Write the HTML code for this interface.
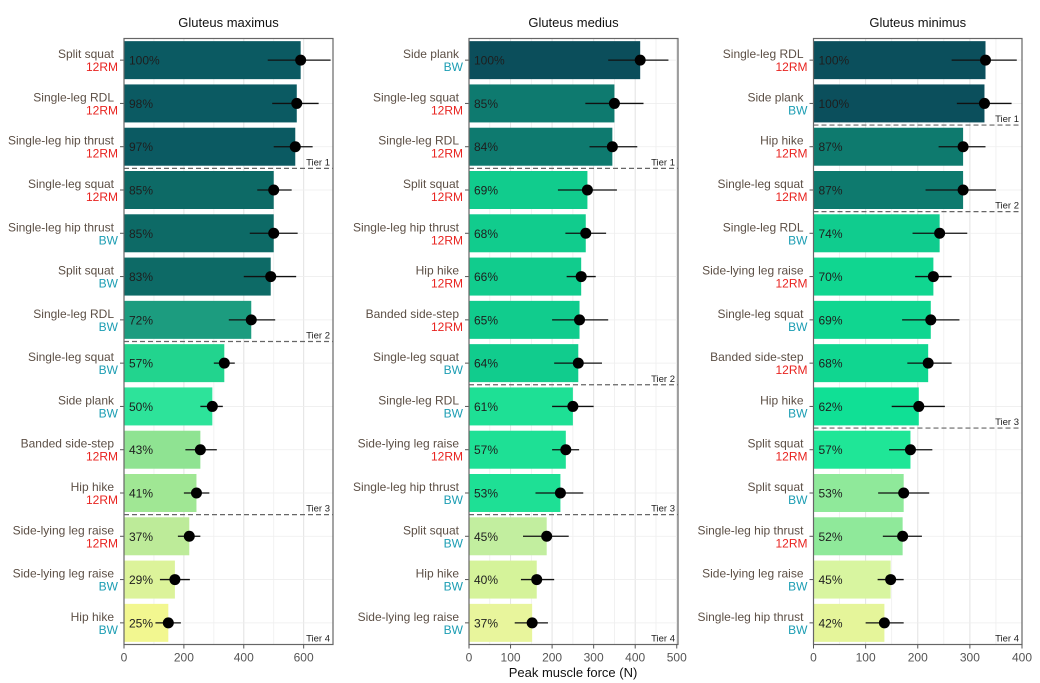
<!DOCTYPE html>
<html><head><meta charset="utf-8">
<style>
html,body{margin:0;padding:0;background:#fff;}
svg{display:block;font-family:"Liberation Sans",Arial,sans-serif;}
</style></head>
<body>
<svg id="chart" width="1040" height="683" viewBox="0 0 1040 683" xmlns="http://www.w3.org/2000/svg"></svg>
<script>
// ---- Gluteus maximus ----
const maxNames = ["Split squat","Single-leg RDL","Single-leg hip thrust","Single-leg squat","Single-leg hip thrust","Split squat","Single-leg RDL","Single-leg squat","Side plank","Banded side-step","Hip hike","Side-lying leg raise","Side-lying leg raise","Hip hike"];
const maxLoad = ["12RM","12RM","12RM","12RM","BW","BW","BW","BW","BW","12RM","12RM","12RM","BW","BW"];
const maxForce = [590,577,572,500,500,490,425,335,295,255,242,218,170,148];
const maxLo = [480,495,500,445,420,400,350,300,255,205,200,180,120,105];
const maxHi = [690,650,630,560,580,575,505,370,330,310,285,255,220,190];
const maxPct = ["100%","98%","97%","85%","85%","83%","72%","57%","50%","43%","41%","37%","29%","25%"];
const maxTierEnds = [3,7,11,14];
const maxTicks = [0,200,400,600];
// ---- Gluteus medius ----
const medNames = ["Side plank","Single-leg squat","Single-leg RDL","Split squat","Single-leg hip thrust","Hip hike","Banded side-step","Single-leg squat","Single-leg RDL","Side-lying leg raise","Single-leg hip thrust","Split squat","Hip hike","Side-lying leg raise"];
const medLoad = ["BW","12RM","12RM","12RM","12RM","12RM","12RM","BW","BW","12RM","BW","BW","BW","BW"];
const medForce = [412,350,345,285,281,270,266,263,250,233,220,187,163,152];
const medLo = [335,280,290,214,232,235,200,205,200,200,160,130,125,110];
const medHi = [480,420,405,356,330,305,335,320,300,265,275,240,205,190];
const medPct = ["100%","85%","84%","69%","68%","66%","65%","64%","61%","57%","53%","45%","40%","37%"];
const medTierEnds = [3,8,11,14];
const medTicks = [0,100,200,300,400,500];
// ---- Gluteus minimus ----
const minNames = ["Single-leg RDL","Side plank","Hip hike","Single-leg squat","Single-leg RDL","Side-lying leg raise","Single-leg squat","Banded side-step","Hip hike","Split squat","Split squat","Single-leg hip thrust","Side-lying leg raise","Single-leg hip thrust"];
const minLoad = ["12RM","BW","12RM","12RM","BW","12RM","BW","12RM","BW","12RM","BW","12RM","BW","BW"];
const minForce = [330,328,287,287,242,230,225,220,202,186,173,171,148,136];
const minLo = [265,275,240,215,190,195,170,180,150,145,124,133,123,100];
const minHi = [390,380,330,350,295,265,280,265,252,228,222,208,173,173];
const minPct = ["100%","100%","87%","87%","74%","70%","69%","68%","62%","57%","53%","52%","45%","42%"];
const minTierEnds = [2,4,9,14];
const minTicks = [0,100,200,300,400];

const maxColors = ["#0b5a62","#0b5a62","#0b5a62","#0d6a66","#0d6a66","#0d6a66","#1c9c7f","#22d48e","#2de39a","#8fe392","#a0e794","#bdeb99","#dcf39a","#f2f790"];
const medColors = ["#0b4e5b","#0e7a6f","#0e7a6f","#11cc8d","#11cc8d","#11cc8d","#11cc8d","#11cc8d","#1ee095","#1ee095","#1ee095","#c2ee9f","#d5f39a","#e8f59c"];
const minColors = ["#0b4f5c","#0b4f5c","#0e7a6e","#0e7a6e","#10cc8e","#10d690","#10d690","#10d690","#10e095","#1fe697","#8fe99a","#8fe99a","#d8f5a0","#e5f59a"];

const svg = document.getElementById('chart');
const NS = "http://www.w3.org/2000/svg";
function mk(tag, attrs, parent, text){
  const e = document.createElementNS(NS, tag);
  for (const k in attrs) e.setAttribute(k, attrs[k]);
  if (text !== undefined) e.textContent = text;
  (parent||svg).appendChild(e);
  return e;
}
const TOP = 38.5, BOT = 644.5, N = 14;
const rowH = (BOT - TOP) / N;

function panel(cfg){
  const g = mk('g', {});
  
  
  const x0 = cfg.x0, x1 = cfg.x1, xmax = cfg.xmax;
  const sx = v => x0 + (v / xmax) * (x1 - x0);
  const yc = i => TOP + rowH * (i + 0.5);
  for (let t = 0; t <= xmax; t += cfg.minor) {
    const l = mk('line', {x1:sx(t), x2:sx(t), y1:TOP, y2:BOT, stroke:'#eeeeee', 'stroke-width':0.8}, g);
    
    
  }
  cfg.ticks.forEach(t => {
    const l = mk('line', {x1:sx(t), x2:sx(t), y1:TOP, y2:BOT, stroke:'#e4e4e4', 'stroke-width':1}, g);
    
    
  });
  for (let i = 0; i < N; i++) {
    const l = mk('line', {x1:x0, x2:x1, y1:yc(i), y2:yc(i), stroke:'#eeeeee', 'stroke-width':0.8}, g);
    
    
  }
  for (let i = 0; i < N; i++) {
    const b = mk('rect', {x:x0, y:yc(i) - 19, width:sx(cfg.force[i]) - x0, height:38, fill:cfg.colors[i]}, g);
    
    
    const p = mk('text', {x:x0 + 5, y:yc(i) + 4.5, 'font-size':12, fill:'#1e1e1e'}, g, cfg.pct[i]);
    
    
    const eb = mk('line', {x1:sx(cfg.lo[i]), x2:sx(cfg.hi[i]), y1:yc(i), y2:yc(i), stroke:'#111', 'stroke-width':1.3}, g);
    
    
    const d = mk('circle', {cx:sx(cfg.force[i]), cy:yc(i), r:5.5, fill:'#000'}, g);
    
    
    const tk = mk('line', {x1:x0 - 4, x2:x0, y1:yc(i), y2:yc(i), stroke:'#555', 'stroke-width':1}, g);
    
    
    const nl = mk('text', {x:x0 - 10, y:yc(i) - 2, 'font-size':12, fill:'#5c4f45', 'text-anchor':'end'}, g, cfg.names[i]);
    
    
    const ll = mk('text', {x:x0 - 6, y:yc(i) + 11, 'font-size':12, fill: cfg.load[i] === 'BW' ? '#1b9db3' : '#e8231f', 'text-anchor':'end'}, g, cfg.load[i]);
    
    
  }
  cfg.tiers.forEach((e, k) => {
    const y = TOP + rowH * e;
    if (e < N) {
      const dl = mk('line', {x1:x0, x2:x1, y1:y, y2:y, stroke:'#666', 'stroke-width':1.2, 'stroke-dasharray':'5,3'}, g);
      
      
    }
    const tl = mk('text', {x:x1 - 3, y:(e < N ? y - 3 : BOT - 3), 'font-size':9.5, fill:'#222', 'text-anchor':'end'}, g, 'Tier ' + (k + 1));
    
    
  });
  const fr = mk('rect', {x:x0, y:TOP, width:x1 - x0, height:BOT - TOP, fill:'none', stroke:'#666', 'stroke-width':1.2}, g);
  
  
  cfg.ticks.forEach(t => {
    const l = mk('line', {x1:sx(t), x2:sx(t), y1:BOT, y2:BOT + 4, stroke:'#555', 'stroke-width':1}, g);
    
    
    const tx = mk('text', {x:sx(t), y:BOT + 17, 'font-size':12, fill:'#555', 'text-anchor':'middle'}, g, String(t));
    
    
  });
  const ti = mk('text', {x:(x0 + x1) / 2, y:27, 'font-size':13, fill:'#111', 'text-anchor':'middle'}, g, cfg.title);
  
  
}

panel({id:'gluteus-maximus', title:'Gluteus maximus', x0:124, x1:333, xmax:698, minor:100, ticks:maxTicks,
  names:maxNames, load:maxLoad, force:maxForce, lo:maxLo, hi:maxHi, pct:maxPct, tiers:maxTierEnds, colors:maxColors});
panel({id:'gluteus-medius', title:'Gluteus medius', x0:469, x1:678, xmax:503, minor:50, ticks:medTicks,
  names:medNames, load:medLoad, force:medForce, lo:medLo, hi:medHi, pct:medPct, tiers:medTierEnds, colors:medColors});
panel({id:'gluteus-minimus', title:'Gluteus minimus', x0:813.5, x1:1022, xmax:400, minor:50, ticks:minTicks,
  names:minNames, load:minLoad, force:minForce, lo:minLo, hi:minHi, pct:minPct, tiers:minTierEnds, colors:minColors});

const xt = mk('text', {x:573, y:677, 'font-size':13, fill:'#111', 'text-anchor':'middle'}, svg, 'Peak muscle force (N)');


</script>
</body></html>
